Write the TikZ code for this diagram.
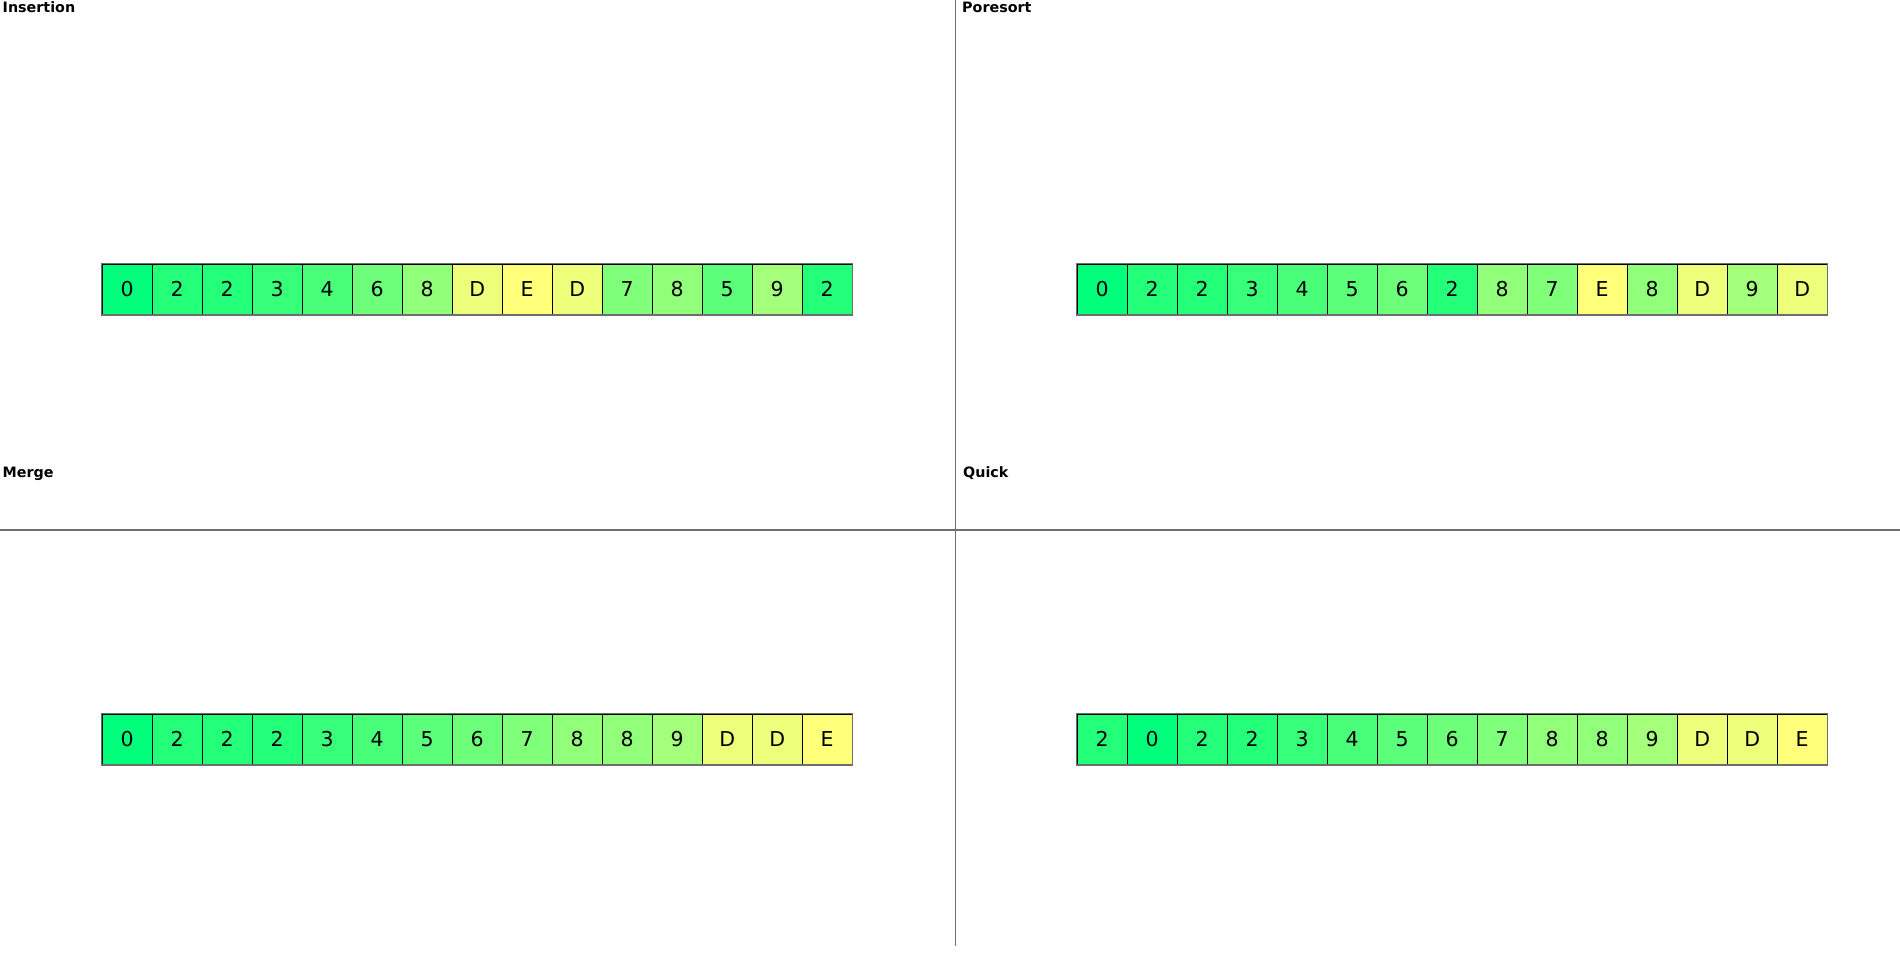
\documentclass[tikz,border=0pt]{standalone}
\usepackage{fontspec}
\setmainfont{DejaVu Sans}
\definecolor{lo}{RGB}{0,255,122}
\definecolor{hi}{RGB}{255,255,122}
\definecolor{sep}{RGB}{110,110,110}
\tikzset{
  cell/.style={draw=black, line width=1pt, minimum width=50pt, minimum height=50.3pt, inner sep=0pt, font=\fontsize{20.5}{24}\selectfont, anchor=north west},
  title/.style={font=\bfseries\fontsize{14.3}{16}\selectfont, inner sep=0pt, anchor=base west},
  sepline/.style={draw=sep, line width=1.5pt},
  frame/.style={draw=sep, line width=1.3pt}
}
\newcommand{\drawarray}[4]{% prefix, x, y, list val/label
  \foreach \v/\t [count=\i from 0] in {#4} {
    \pgfmathsetmacro{\pc}{\v/14*100}
    \node[cell, fill=hi!\pc!lo] (#1\i) at ({#2+50*\i}, #3) {\t};
  }
  \draw[frame] (#10.north west) rectangle (#114.south east);
}
\begin{document}
\begin{tikzpicture}[x=1pt,y=-1pt]
\useasboundingbox (0,0) rectangle (1900,957);
\fill[white] (0,0) rectangle (1900,957);
\coordinate (vt) at (955.7,0);
\coordinate (vb) at (955.7,945.7);
\coordinate (hl) at (0,530);
\coordinate (hr) at (1900,530);
\draw[sepline] (vt) -- (vb);
\draw[sepline] (hl) -- (hr);
\node[title] (tIns) at (2.5,13) {Insertion};
\node[title] (tPor) at (962,13) {Poresort};
\node[title] (tMer) at (2.5,477.5) {Merge};
\node[title] (tQui) at (963,477.5) {Quick};
\drawarray{a}{101.7}{263.7}{0/0,2/2,2/2,3/3,4/4,6/6,8/8,13/D,14/E,13/D,7/7,8/8,5/5,9/9,2/2}
\drawarray{b}{1076.7}{263.7}{0/0,2/2,2/2,3/3,4/4,5/5,6/6,2/2,8/8,7/7,14/E,8/8,13/D,9/9,13/D}
\drawarray{c}{101.7}{713.7}{0/0,2/2,2/2,2/2,3/3,4/4,5/5,6/6,7/7,8/8,8/8,9/9,13/D,13/D,14/E}
\drawarray{d}{1076.7}{713.7}{2/2,0/0,2/2,2/2,3/3,4/4,5/5,6/6,7/7,8/8,8/8,9/9,13/D,13/D,14/E}
\end{tikzpicture}
\end{document}
